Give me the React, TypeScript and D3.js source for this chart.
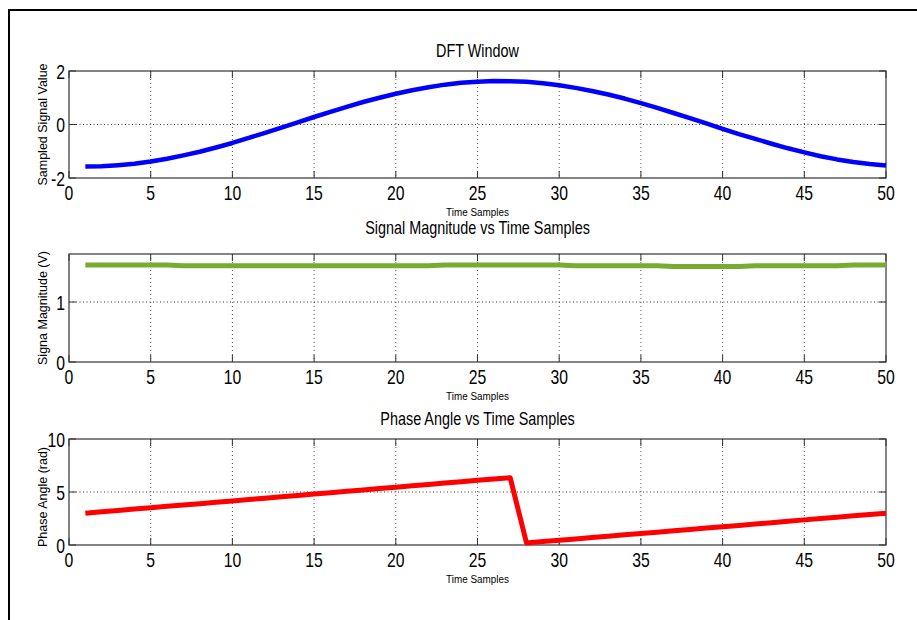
import React from 'react';
import * as d3 from 'd3';

// samples 1..50
const samples = d3.range(1, 51);

const signalValues = [
  -1.57, -1.56, -1.52, -1.47, -1.385, -1.28, -1.155, -1.02, -0.86, -0.69,
  -0.5, -0.31, -0.12, 0.08, 0.28, 0.47, 0.66, 0.84, 1.0, 1.15,
  1.28, 1.395, 1.49, 1.56, 1.6, 1.625, 1.62, 1.6, 1.545, 1.47,
  1.37, 1.255, 1.12, 0.97, 0.8, 0.62, 0.43, 0.24, 0.04, -0.16,
  -0.36, -0.54, -0.72, -0.89, -1.04, -1.185, -1.305, -1.4, -1.48, -1.53,
];

const magnitudeValues = [
  1.615, 1.615, 1.615, 1.615, 1.615, 1.615, 1.605, 1.605, 1.605, 1.605,
  1.605, 1.605, 1.605, 1.605, 1.605, 1.605, 1.605, 1.605, 1.605, 1.605,
  1.605, 1.605, 1.615, 1.615, 1.615, 1.615, 1.615, 1.615, 1.615, 1.615,
  1.605, 1.605, 1.605, 1.605, 1.605, 1.605, 1.592, 1.592, 1.592, 1.592,
  1.592, 1.605, 1.605, 1.605, 1.605, 1.605, 1.605, 1.615, 1.615, 1.615,
];

const phaseValues = [
  3.0, 3.13, 3.26, 3.39, 3.52, 3.65, 3.77, 3.9, 4.03, 4.16,
  4.29, 4.42, 4.55, 4.68, 4.81, 4.94, 5.06, 5.19, 5.32, 5.45,
  5.58, 5.71, 5.84, 5.97, 6.1, 6.22, 6.35, 0.19, 0.32, 0.45,
  0.57, 0.7, 0.83, 0.96, 1.09, 1.21, 1.34, 1.47, 1.6, 1.73,
  1.85, 1.98, 2.11, 2.24, 2.37, 2.49, 2.62, 2.75, 2.88, 3.0,
];

const xTicks = [0, 5, 10, 15, 20, 25, 30, 35, 40, 45, 50];

const panels = [
  {
    title: 'DFT Window', ylabel: 'Sampled Signal Value', values: signalValues,
    domain: [-2, 2], yTicks: [-2, 0, 2], color: '#0000ff', width: 4.5,
    top: 71, bottom: 178, titleGap: 14, labelShift: 0,
  },
  {
    title: 'Signal Magnitude vs Time Samples', ylabel: 'Signa Magnitude (V)', values: magnitudeValues,
    domain: [0, 1.8], yTicks: [0, 1], color: '#77ac30', width: 5,
    top: 254, bottom: 362, titleGap: 20, labelShift: 0,
  },
  {
    title: 'Phase Angle vs Time Samples', ylabel: 'Phase Angle (rad)', values: phaseValues,
    domain: [0, 10], yTicks: [0, 5, 10], color: '#ff0000', width: 5,
    top: 439, bottom: 545, titleGap: 14, labelShift: 5,
  },
];

const FONT = '"Liberation Sans", Arial, sans-serif';
const left = 69;
const right = 886;

// squeezed text, the original uses a narrow Helvetica
const NText = ({ x, y, size, sx = 1, anchor = 'middle', rotate = 0, children }: any) => (
  <text
    transform={`translate(${x},${y}) rotate(${rotate}) scale(${sx},1)`}
    fontSize={size}
    textAnchor={anchor}
    fontFamily={FONT}
    fill="#000"
  >
    {children}
  </text>
);

const Panel = ({ p }: any) => {
  const x = d3.scaleLinear().domain([0, 50]).range([left, right]);
  const y = d3.scaleLinear().domain(p.domain).range([p.bottom, p.top]);
  const line = d3.line<number>()
    .x((_, i) => x(samples[i]))
    .y(d => y(d));
  const mid = (p.top + p.bottom) / 2;

  return (
    <g>
      {/* grid */}
      {xTicks.filter(t => t > 0 && t < 50).map(t => (
        <line key={'gx' + t} x1={x(t)} x2={x(t)} y1={p.top} y2={p.bottom}
          stroke="#555" strokeDasharray="1,3" />
      ))}
      {p.yTicks.filter((t: number) => y(t) > p.top + 1 && y(t) < p.bottom - 1).map((t: number) => (
        <line key={'gy' + t} x1={left} x2={right} y1={y(t)} y2={y(t)}
          stroke="#333" strokeDasharray="1,2.5" />
      ))}
      {/* ticks, inside, all four sides */}
      {xTicks.map(t => (
        <g key={'tx' + t}>
          <line x1={x(t)} x2={x(t)} y1={p.bottom} y2={p.bottom - 7} stroke="#333" />
          <line x1={x(t)} x2={x(t)} y1={p.top} y2={p.top + 7} stroke="#333" />
        </g>
      ))}
      {p.yTicks.map((t: number) => (
        <g key={'ty' + t}>
          <line x1={left} x2={left + 7} y1={y(t)} y2={y(t)} stroke="#333" />
          <line x1={right} x2={right - 7} y1={y(t)} y2={y(t)} stroke="#333" />
        </g>
      ))}
      <rect x={left} y={p.top} width={right - left} height={p.bottom - p.top}
        fill="none" stroke="#333" strokeWidth={1.2} />
      <path d={line(p.values) || ''} fill="none" stroke={p.color}
        strokeWidth={p.width} strokeLinejoin="round" />
      {/* tick labels */}
      {xTicks.map(t => (
        <NText key={'lx' + t} x={x(t)} y={p.bottom + 22} size={21} sx={0.75}>{t}</NText>
      ))}
      {p.yTicks.map((t: number) => (
        <NText key={'ly' + t} x={65} y={y(t) + 7.5} size={21} sx={0.75} anchor="end">{t}</NText>
      ))}
      <NText x={(left + right) / 2} y={p.top - p.titleGap} size={18} sx={0.8}>{p.title}</NText>
      <NText x={(left + right) / 2} y={p.bottom + 38} size={11.5} sx={0.86}>Time Samples</NText>
      <NText x={47} y={mid + p.labelShift} size={12.5} rotate={-90}>{p.ylabel}</NText>
    </g>
  );
};

export default function App() {
  return (
    <svg width={917} height={620} style={{ position: 'absolute', left: 0, top: 0, background: '#fff' }}>
      <rect x={0} y={0} width={917} height={620} fill="#fff" />
      <rect x={9} y={10} width={940} height={640} fill="none" stroke="#000" strokeWidth={2} />
      {panels.map(p => <Panel key={p.title} p={p} />)}
    </svg>
  );
}
